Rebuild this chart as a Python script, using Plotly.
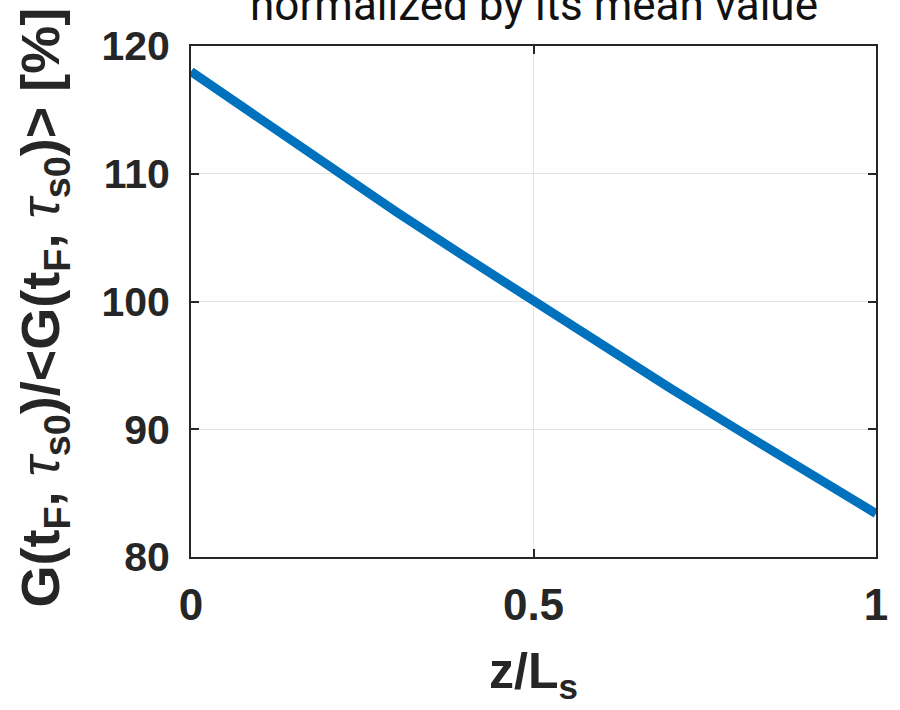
import plotly.graph_objects as go

# Normalized axial profile of G(t_F, tau_s0) along the slab
z_over_L = [0.0, 0.1, 0.2, 0.3, 0.4, 0.5, 0.6, 0.7, 0.8, 0.9, 1.0]
g_norm_pct = [118.0, 114.3, 110.6, 107.0, 103.5, 100.0, 96.6, 93.2, 89.9, 86.6, 83.4]

x_ticks = [0, 0.5, 1]
x_tick_text = ["0", "0.5", "1"]
y_ticks = [80, 90, 100, 110, 120]
y_tick_text = ["80", "90", "100", "110", "120"]

INK = "#262626"
LINE_BLUE = "#0072BD"
FONT = "Liberation Sans, Arial, sans-serif"

fig = go.Figure()
fig.add_trace(go.Scatter(
    x=z_over_L, y=g_norm_pct, mode="lines",
    line=dict(color=LINE_BLUE, width=9),
    showlegend=False, hoverinfo="skip",
))

axis_common = dict(
    showline=True, linecolor=INK, linewidth=2, mirror="ticks",
    ticks="inside", ticklen=8, tickwidth=2, tickcolor=INK,
    showgrid=True, gridcolor="#e3e3e3", gridwidth=1,
    zeroline=False,
)

fig.update_xaxes(
    range=[0, 1], tickvals=x_ticks, ticktext=x_tick_text,
    tickfont=dict(family=FONT, size=44, color=INK, weight="bold"),
    ticklabelstandoff=8,
    **axis_common,
)
fig.update_yaxes(
    range=[80, 120], tickvals=y_ticks, ticktext=y_tick_text,
    tickfont=dict(family=FONT, size=41, color=INK, weight="bold"),
    ticklabelstandoff=11,
    **axis_common,
)

fig.add_annotation(
    text="normalized by its mean value",
    xref="paper", yref="paper", x=0.5, y=1,
    xanchor="center", yanchor="bottom", yshift=13, showarrow=False,
    font=dict(family="Roboto, sans-serif", size=44, color="#111111"),
)

# Rotated y-axis title; tau set in light italic as in TeX rendering
fig.add_annotation(
    text=("<b>G(t<sub>F</sub>,</b> <i>τ</i><b><sub>s0</sub>)/&lt;G(t<sub>F</sub>,</b> "
          "<i>τ</i><b><sub>s0</sub>)&gt; [%]</b>"),
    xref="paper", yref="paper", x=0, y=0.5, xshift=-148, yshift=-6,
    xanchor="center", yanchor="middle", textangle=-90, showarrow=False,
    font=dict(family=FONT, size=54, color=INK),
)

fig.add_annotation(
    text="<b>z/L<sub>s</sub></b>",
    xref="paper", yref="paper", x=0.5, y=0,
    xanchor="center", yanchor="top", yshift=-84, showarrow=False,
    font=dict(family=FONT, size=50, color=INK),
)

fig.update_layout(
    width=900, height=710,
    margin=dict(l=191, r=18, t=46, b=153),
    paper_bgcolor="white", plot_bgcolor="white",
)

fig.write_html("out.html")
